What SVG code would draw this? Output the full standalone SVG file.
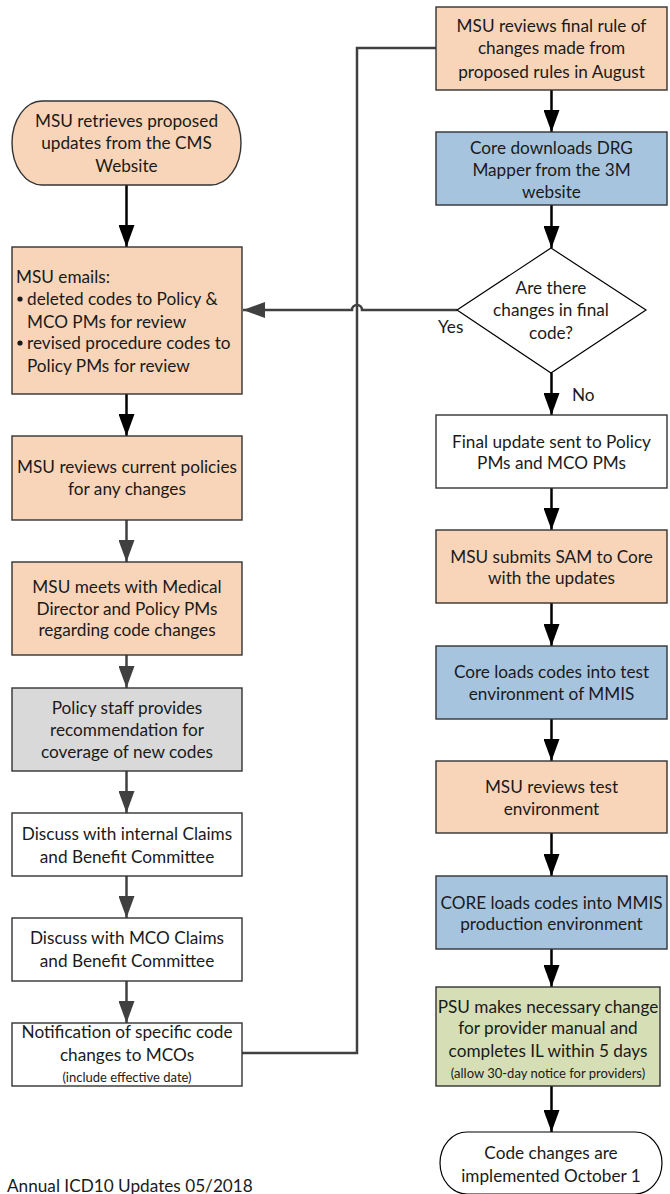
<svg xmlns="http://www.w3.org/2000/svg" width="670" height="1194" viewBox="0 0 670 1194">
  <style>
    text { font-family: Lato, "Open Sans", sans-serif; font-size: 17.2px; fill: #1a1a1a; }
    .c { text-anchor: middle; }
    .sm { font-size: 13px; }
    .box { stroke: #333333; stroke-width: 1.4; }
    .peach { fill: #F8D5B8; }
    .blue { fill: #A7C4DF; }
    .grey { fill: #D9D9D9; }
    .green { fill: #D5DEB5; }
    .white { fill: #FFFFFF; }
    .blk { stroke: #000000; stroke-width: 2.5; fill: none; }
    .dk { stroke: #404040; stroke-width: 2.5; fill: none; }
  </style>
  <defs>
    <marker id="headBlack" markerUnits="userSpaceOnUse" markerWidth="22" markerHeight="16" refX="22" refY="8" orient="auto">
      <path d="M0,0 L22,8 L0,16 z" fill="#000000"/>
    </marker>
    <marker id="headGrey" markerUnits="userSpaceOnUse" markerWidth="22" markerHeight="16" refX="22" refY="8" orient="auto">
      <path d="M0,0 L22,8 L0,16 z" fill="#404040"/>
    </marker>
  </defs>

  <rect width="670" height="1194" fill="#FFFFFF"/>

  <!-- connectors -->
  <g id="connectors">
    <!-- left column -->
    <line class="blk" x1="126.5" y1="185" x2="126.5" y2="247" marker-end="url(#headBlack)"/>
    <line class="blk" x1="126.5" y1="394" x2="126.5" y2="436" marker-end="url(#headBlack)"/>
    <line class="dk" x1="126.5" y1="520" x2="126.5" y2="562" marker-end="url(#headGrey)"/>
    <line class="dk" x1="126.5" y1="655" x2="126.5" y2="688" marker-end="url(#headGrey)"/>
    <line class="dk" x1="126.5" y1="771" x2="126.5" y2="813" marker-end="url(#headGrey)"/>
    <line class="dk" x1="126.5" y1="876" x2="126.5" y2="918" marker-end="url(#headGrey)"/>
    <line class="dk" x1="126.5" y1="981" x2="126.5" y2="1023" stroke-width="1.8" marker-end="url(#headGrey)"/>
    <!-- notification to final-rule review -->
    <path class="dk" stroke-width="2" d="M242,1053 H357 V48 H436"/>
    <!-- Yes branch with line hop over the vertical connector -->
    <path class="dk" d="M457,310 H362 A5,5 0 0 0 352,310 H243" marker-end="url(#headGrey)"/>
    <!-- right column -->
    <line class="blk" x1="551.5" y1="90" x2="551.5" y2="132" marker-end="url(#headBlack)"/>
    <line class="blk" x1="551.5" y1="205" x2="551.5" y2="248" marker-end="url(#headBlack)"/>
    <line class="blk" x1="551.5" y1="373" x2="551.5" y2="415" marker-end="url(#headBlack)"/>
    <line class="blk" x1="551.5" y1="488" x2="551.5" y2="530" marker-end="url(#headBlack)"/>
    <line class="blk" x1="551.5" y1="603" x2="551.5" y2="646" marker-end="url(#headBlack)"/>
    <line class="blk" x1="551.5" y1="719" x2="551.5" y2="761" marker-end="url(#headBlack)"/>
    <line class="blk" x1="551.5" y1="833" x2="551.5" y2="876" marker-end="url(#headBlack)"/>
    <line class="blk" x1="551.5" y1="949" x2="551.5" y2="987" marker-end="url(#headBlack)"/>
    <line class="blk" x1="551.5" y1="1086" x2="551.5" y2="1132" marker-end="url(#headBlack)"/>
    <text x="438" y="333">Yes</text>
    <text x="572" y="401">No</text>
  </g>

  <!-- left column nodes -->
  <g id="start">
    <rect class="box peach" x="12" y="101" width="229" height="84" rx="30" ry="42"/>
    <text class="c" x="126.5" y="127">MSU retrieves proposed</text>
    <text class="c" x="126.5" y="149">updates from the CMS</text>
    <text class="c" x="126.5" y="172">Website</text>
  </g>

  <g id="msu-emails">
    <rect class="box peach" x="12" y="247" width="230" height="147"/>
    <text x="16" y="283">MSU emails:</text>
    <circle cx="20" cy="299" r="2.6" fill="#1a1a1a"/>
    <text x="27" y="305">deleted codes to Policy &amp;</text>
    <text x="27" y="328">MCO PMs for review</text>
    <circle cx="20" cy="343" r="2.6" fill="#1a1a1a"/>
    <text x="27" y="349">revised procedure codes to</text>
    <text x="27" y="372">Policy PMs for review</text>
  </g>

  <g id="review-policies">
    <rect class="box peach" x="12" y="436" width="230" height="84"/>
    <text class="c" x="127" y="473">MSU reviews current policies</text>
    <text class="c" x="127" y="495">for any changes</text>
  </g>

  <g id="meet-director">
    <rect class="box peach" x="12" y="562" width="230" height="93"/>
    <text class="c" x="127" y="593">MSU meets with Medical</text>
    <text class="c" x="127" y="615">Director and Policy PMs</text>
    <text class="c" x="127" y="636">regarding code changes</text>
  </g>

  <g id="policy-staff">
    <rect class="box grey" x="12" y="688" width="230" height="83"/>
    <text class="c" x="127" y="714">Policy staff provides</text>
    <text class="c" x="127" y="736">recommendation for</text>
    <text class="c" x="127" y="758">coverage of new codes</text>
  </g>

  <g id="internal-committee">
    <rect class="box white" x="12" y="813" width="230" height="63"/>
    <text class="c" x="127" y="840">Discuss with internal Claims</text>
    <text class="c" x="127" y="863">and Benefit Committee</text>
  </g>

  <g id="mco-committee">
    <rect class="box white" x="12" y="918" width="230" height="63"/>
    <text class="c" x="127" y="944">Discuss with MCO Claims</text>
    <text class="c" x="127" y="967">and Benefit Committee</text>
  </g>

  <g id="notify-mcos">
    <rect class="box white" x="12" y="1023" width="230" height="63"/>
    <text class="c" x="127" y="1038">Notification of specific code</text>
    <text class="c" x="127" y="1061">changes to MCOs</text>
    <text class="c sm" x="127" y="1082">(include effective date)</text>
  </g>

  <!-- right column nodes -->
  <g id="final-rule">
    <rect class="box peach" x="436" y="7" width="231" height="83"/>
    <text class="c" x="551.5" y="32">MSU reviews final rule of</text>
    <text class="c" x="551.5" y="54">changes made from</text>
    <text class="c" x="551.5" y="78">proposed rules in August</text>
  </g>

  <g id="drg-mapper">
    <rect class="box blue" x="436" y="132" width="231" height="73"/>
    <text class="c" x="551.5" y="154">Core downloads DRG</text>
    <text class="c" x="551.5" y="176">Mapper from the 3M</text>
    <text class="c" x="551.5" y="198">website</text>
  </g>

  <g id="changes-decision">
    <polygon points="551,248 646,310 551,373 457,310" fill="#FFFFFF" stroke="#000000" stroke-width="1.2"/>
    <text class="c" x="551" y="294">Are there</text>
    <text class="c" x="551" y="316">changes in final</text>
    <text class="c" x="551" y="339">code?</text>
  </g>

  <g id="final-update">
    <rect class="box white" x="436" y="415" width="231" height="73"/>
    <text class="c" x="551.5" y="448">Final update sent to Policy</text>
    <text class="c" x="551.5" y="469">PMs and MCO PMs</text>
  </g>

  <g id="submit-sam">
    <rect class="box peach" x="436" y="530" width="231" height="73"/>
    <text class="c" x="551.5" y="563">MSU submits SAM to Core</text>
    <text class="c" x="551.5" y="584">with the updates</text>
  </g>

  <g id="load-test">
    <rect class="box blue" x="436" y="646" width="231" height="73"/>
    <text class="c" x="551.5" y="678">Core loads codes into test</text>
    <text class="c" x="551.5" y="700">environment of MMIS</text>
  </g>

  <g id="review-test">
    <rect class="box peach" x="436" y="761" width="231" height="72"/>
    <text class="c" x="551.5" y="793">MSU reviews test</text>
    <text class="c" x="551.5" y="815">environment</text>
  </g>

  <g id="load-production">
    <rect class="box blue" x="436" y="876" width="231" height="73"/>
    <text class="c" x="551.5" y="909">CORE loads codes into MMIS</text>
    <text class="c" x="551.5" y="930">production environment</text>
  </g>

  <g id="provider-manual">
    <rect class="box green" x="436" y="987" width="224" height="99"/>
    <text class="c" x="548" y="1013">PSU makes necessary change</text>
    <text class="c" x="548" y="1034">for provider manual and</text>
    <text class="c" x="548" y="1057">completes IL within 5 days</text>
    <text class="c sm" x="548" y="1078">(allow 30-day notice for providers)</text>
  </g>

  <g id="end">
    <rect x="440" y="1132" width="222" height="62" rx="27" ry="31" fill="#FFFFFF" stroke="#000000" stroke-width="1.2"/>
    <text class="c" x="551" y="1159">Code changes are</text>
    <text class="c" x="551" y="1182">implemented October 1</text>
  </g>

  <text x="7" y="1192" font-size="16">Annual ICD10 Updates  05/2018</text>
</svg>
